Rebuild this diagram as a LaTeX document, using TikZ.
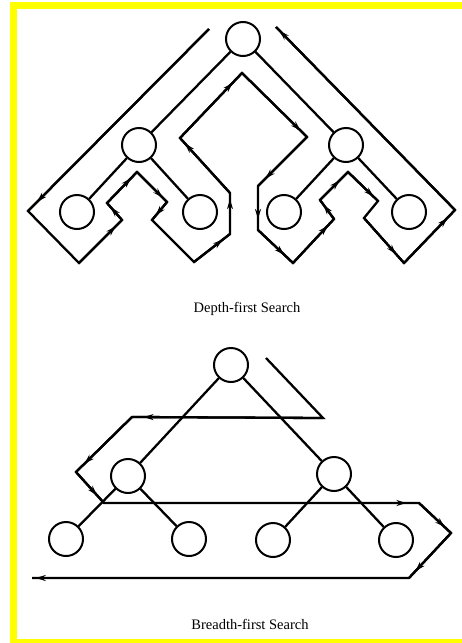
\documentclass[tikz,border=0pt]{standalone}
\usepackage{fontspec}
\setmainfont{Liberation Serif}
\usetikzlibrary{arrows.meta,decorations.markings}
\definecolor{frameyellow}{RGB}{255,255,0}
\tikzset{
  vert/.style={circle,draw,line width=2pt,minimum size=34pt,inner sep=0pt},
  edge/.style={line width=2.3pt},
  route/.style={line width=2.3pt,line join=miter},
  arr/.style={line width=2.3pt,postaction={decorate},
    decoration={markings,mark=at position #1 with {\arrow{Stealth[length=10pt,width=6pt]}}}},
  caption/.style={font=\fontsize{14.5}{17}\selectfont}
}
\begin{document}
\begin{tikzpicture}[x=1pt,y=-1pt]
\useasboundingbox (0,0) rectangle (462,643);
% yellow frame
\fill[frameyellow] (10,2) rectangle (462,9);
\fill[frameyellow] (10,2) rectangle (17,643);
\fill[frameyellow] (10,639) rectangle (462,643);

% ---------- Depth-first tree ----------
\node[vert] (r)  at (243,39) {};
\node[vert] (l)  at (139,145) {};
\node[vert] (rr) at (346,145) {};
\node[vert] (ll) at (77,212) {};
\node[vert] (lr) at (200,212) {};
\node[vert] (rl) at (284,212) {};
\node[vert] (rx) at (409,212) {};
\draw[edge] (r) -- (l);
\draw[edge] (r) -- (rr);
\draw[edge] (l) -- (ll);
\draw[edge] (l) -- (lr);
\draw[edge] (rr) -- (rl);
\draw[edge] (rr) -- (rx);

\coordinate (d0) at (209,29);
\coordinate (d1) at (28,211);
\coordinate (d2) at (79,263);
\coordinate (d3) at (122,220);
\coordinate (d4) at (107,203);
\coordinate (d5) at (137,172);
\coordinate (d6) at (167,202);
\coordinate (d7) at (152,220);
\coordinate (d8) at (194,262);
\coordinate (d9) at (230,234);
\coordinate (d10) at (230,193);
\coordinate (d11) at (180,138);
\coordinate (d12) at (242,73);
\coordinate (d13) at (307,137);
\coordinate (d14) at (258,186);
\coordinate (d15) at (258,230);
\coordinate (d16) at (293,263);
\coordinate (d17) at (334,219);
\coordinate (d18) at (320,200);
\coordinate (d19) at (348,172);
\coordinate (d20) at (378,201);
\coordinate (d21) at (364,218);
\coordinate (d22) at (404,263);
\coordinate (d23) at (455,210);
\coordinate (d24) at (276,27);
\draw[route] (d0) -- (d1) -- (d2) -- (d3) -- (d4) -- (d5) -- (d6) -- (d7) -- (d8)
  -- (d9) -- (d10) -- (d11) -- (d12) -- (d13) -- (d14) -- (d15) -- (d16)
  -- (d17) -- (d18) -- (d19) -- (d20) -- (d21) -- (d22) -- (d23) -- (d24);
\draw[arr=0.95] (d0) -- (d1);
\draw[arr=0.85] (d2) -- (d3);
\draw[arr=0.75] (d3) -- (d4);
\draw[arr=0.8] (d4) -- (d5);
\draw[arr=0.85] (d5) -- (d6);
\draw[arr=0.75] (d6) -- (d7);
\draw[arr=0.8] (d8) -- (d9);
\draw[arr=0.85] (d9) -- (d10);
\draw[arr=0.9] (d10) -- (d11);
\draw[arr=0.85] (d11) -- (d12);
\draw[arr=0.9] (d12) -- (d13);
\draw[arr=0.85] (d13) -- (d14);
\draw[arr=0.75] (d14) -- (d15);
\draw[arr=0.75] (d15) -- (d16);
\draw[arr=0.85] (d16) -- (d17);
\draw[arr=0.75] (d17) -- (d18);
\draw[arr=0.7] (d18) -- (d19);
\draw[arr=0.85] (d19) -- (d20);
\draw[arr=0.8] (d21) -- (d22);
\draw[arr=0.85] (d22) -- (d23);
\draw[arr=0.98] (d23) -- (d24);

\node[caption] (dlab) at (247,309) {Depth-first Search};

% ---------- Breadth-first tree ----------
\node[vert] (br)  at (231,365) {};
\node[vert] (bl)  at (128,476) {};
\node[vert] (brr) at (334,474) {};
\node[vert] (bll) at (66,539) {};
\node[vert] (blr) at (189,539) {};
\node[vert] (brl) at (273,540) {};
\node[vert] (brx) at (396,540) {};
\draw[edge] (br) -- (bl);
\draw[edge] (br) -- (brr);
\draw[edge] (bl) -- (bll);
\draw[edge] (bl) -- (blr);
\draw[edge] (brr) -- (brl);
\draw[edge] (brr) -- (brx);

\coordinate (b0) at (266,358);
\coordinate (b1) at (323,418);
\coordinate (b2) at (132,417);
\coordinate (b3) at (76,472);
\coordinate (b4) at (104,503);
\coordinate (b5) at (419,503);
\coordinate (b6) at (451,533);
\coordinate (b7) at (409,578);
\coordinate (b8) at (32,578);
\draw[route] (b0) -- (b1) -- (b2) -- (b3) -- (b4) -- (b5) -- (b6) -- (b7) -- (b8);
\draw[arr=0.94] (b1) -- (b2);
\draw[arr=0.85] (b2) -- (b3);
\draw[arr=0.75] (b3) -- (b4);
\draw[arr=0.96] (b4) -- (b5);
\draw[arr=0.8] (b5) -- (b6);
\draw[arr=0.85] (b6) -- (b7);
\draw[arr=0.99] (b7) -- (b8);

\node[caption] (blab) at (250,624) {Breadth-first Search};
\end{tikzpicture}
\end{document}
